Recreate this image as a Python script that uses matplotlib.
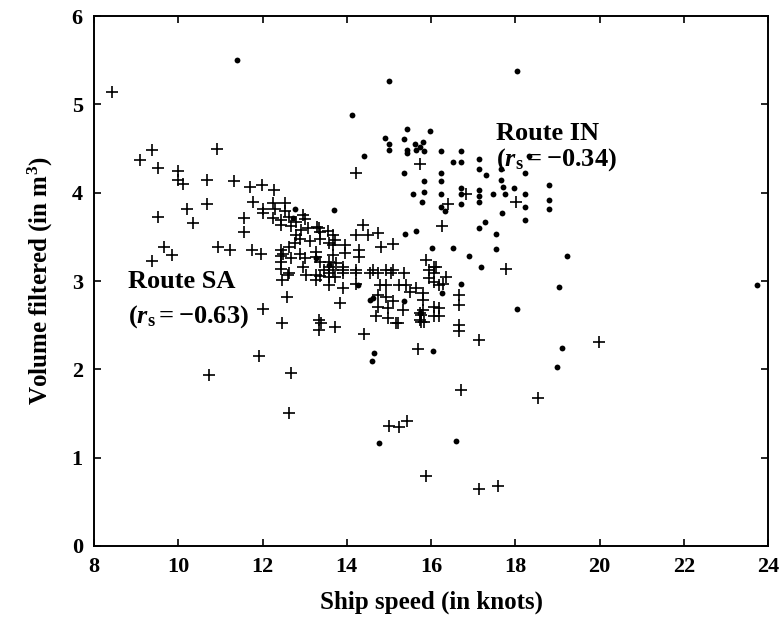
import matplotlib
matplotlib.use("Agg")
import matplotlib.pyplot as plt

# Route IN (dots)
in_speed = [11.40, 15.01, 18.03, 14.13, 15.42, 15.97, 14.90, 15.01, 15.01, 15.35,
            15.42, 15.42, 15.61, 15.65, 15.80, 15.83, 15.73, 14.42, 16.24, 16.71,
            16.51, 16.71, 17.15, 18.33, 15.35, 15.83, 15.83, 15.57, 15.79, 16.24,
            16.24, 16.24, 16.24, 16.32, 16.71, 16.71, 16.71, 17.15, 17.31, 17.15,
            17.15, 17.15, 17.46, 17.66, 17.66, 17.70, 17.76, 17.98, 18.24, 18.24,
            18.24, 18.79, 18.79, 18.79, 17.68, 17.15, 17.27, 17.54, 18.24, 13.69,
            12.76, 15.39, 15.65, 16.02, 16.51, 16.89, 17.54, 17.19, 19.22, 16.71,
            16.26, 19.03, 18.03, 16.04, 19.10, 19.00, 16.59, 23.74, 14.64, 14.60,
            14.76, 12.72, 13.28, 13.59, 14.26, 14.62, 15.37, 14.54, 15.73]
in_volume = [5.50, 5.26, 5.38, 4.88, 4.72, 4.70, 4.62, 4.55, 4.48, 4.61,
             4.48, 4.45, 4.55, 4.48, 4.57, 4.47, 4.52, 4.42, 4.47, 4.47,
             4.35, 4.35, 4.38, 4.42, 4.22, 4.13, 4.01, 3.99, 3.89, 4.22,
             4.13, 3.98, 3.84, 3.79, 4.05, 3.99, 3.87, 4.27, 4.20, 4.03,
             3.96, 3.89, 3.99, 4.27, 4.14, 4.07, 3.98, 4.05, 4.22, 3.99,
             3.84, 4.09, 3.92, 3.82, 3.77, 3.60, 3.67, 3.53, 3.69, 3.80,
             3.82, 3.53, 3.57, 3.37, 3.37, 3.28, 3.36, 3.16, 3.28, 2.97,
             2.86, 2.93, 2.68, 2.21, 2.24, 2.03, 1.19, 2.95, 2.19, 2.09,
             1.17, 3.71, 3.26, 3.18, 2.96, 2.81, 2.77, 2.79, 2.64]

# Route SA (crosses)
sa_speed = [8.44, 9.09, 9.37, 9.52, 10.91, 10.00, 10.00, 10.12, 10.69, 11.33,
            11.70, 11.99, 12.27, 14.22, 15.73, 9.52, 10.20, 10.34, 10.69, 11.55,
            11.55, 11.78, 12.01, 9.66, 9.86, 9.37, 10.95, 11.24, 11.76, 11.97,
            12.49, 14.38, 14.22, 14.50, 14.74, 14.82, 15.09, 13.34, 13.67, 12.00,
            12.25, 12.53, 12.29, 12.53, 12.25, 12.45, 12.64, 12.80, 12.96, 13.02,
            12.45, 12.68, 12.92, 13.08, 13.29, 13.55, 12.80, 12.88, 12.76, 13.12,
            13.36, 13.36, 12.64, 12.88, 13.28, 13.59, 13.71, 12.45, 12.45, 12.45,
            12.45, 12.68, 13.00, 12.96, 13.36, 13.28, 13.59, 13.59, 13.47, 13.75,
            12.64, 13.04, 13.36, 13.71, 13.67, 13.95, 13.95, 14.30, 14.30, 13.67,
            13.91, 13.91, 13.67, 14.22, 14.62, 14.93, 15.09, 15.37, 15.88, 15.96,
            16.12, 13.59, 13.91, 14.22, 14.54, 14.74, 15.05, 16.08, 13.59, 13.91,
            14.22, 14.78, 14.93, 15.25, 15.41, 14.74, 14.93, 15.09, 15.49, 15.65,
            15.80, 14.74, 14.97, 15.33, 15.73, 15.80, 16.08, 16.08, 14.70, 14.97,
            15.21, 15.73, 15.84, 13.83, 13.40, 13.34, 13.34, 13.73, 14.42, 15.17,
            15.69, 11.92, 10.73, 12.68, 12.62, 15.01, 15.24, 15.43, 15.87, 17.15,
            17.60, 12.00, 12.47, 12.57, 12.47, 12.60, 13.28, 13.28, 13.59, 16.67,
            16.67, 16.67, 16.67, 16.20, 16.20, 15.77, 15.77, 17.15, 19.99, 16.71,
            18.53, 16.40, 16.83, 18.02, 16.26, 16.08, 17.78, 15.96, 16.08, 16.36,
            16.28, 16.20, 15.80]
sa_volume = [5.14, 4.37, 4.48, 4.28, 4.50, 4.25, 4.14, 4.10, 4.14, 4.13,
             4.06, 4.09, 4.03, 4.22, 4.33, 3.72, 3.81, 3.66, 3.87, 3.71,
             3.55, 3.90, 3.81, 3.39, 3.30, 3.23, 3.38, 3.35, 3.35, 3.31,
             3.31, 3.64, 3.52, 3.52, 3.54, 3.38, 3.42, 3.60, 3.52, 3.77,
             3.88, 3.88, 3.81, 3.79, 3.71, 3.69, 3.73, 3.67, 3.75, 3.70,
             3.64, 3.62, 3.58, 3.60, 3.61, 3.57, 3.52, 3.48, 3.43, 3.45,
             3.48, 3.56, 3.38, 3.31, 3.33, 3.43, 3.47, 3.35, 3.28, 3.22,
             3.14, 3.26, 3.26, 3.16, 3.22, 3.27, 3.22, 3.16, 3.13, 3.20,
             3.09, 3.07, 3.06, 3.05, 3.41, 3.41, 3.32, 3.35, 3.27, 3.30,
             3.16, 3.13, 3.13, 3.13, 3.13, 3.13, 3.13, 3.09, 3.24, 3.13,
             3.16, 3.09, 3.09, 3.09, 3.09, 3.09, 3.09, 3.09, 2.96, 2.92,
             2.97, 2.96, 2.96, 2.96, 2.96, 2.84, 2.82, 2.77, 2.88, 2.92,
             2.86, 2.71, 2.69, 2.67, 2.64, 2.67, 2.71, 2.60, 2.60, 2.58,
             2.52, 2.56, 2.54, 2.75, 2.52, 2.56, 2.45, 2.48, 2.40, 2.53,
             2.23, 2.15, 1.94, 1.96, 1.50, 1.36, 1.35, 1.41, 0.79, 0.65,
             0.68, 2.68, 2.53, 2.82, 3.01, 3.07, 3.07, 3.01, 3.05, 2.84,
             2.73, 2.50, 2.43, 2.69, 2.60, 2.62, 2.54, 2.33, 2.31, 1.77,
             1.68, 3.87, 3.98, 3.89, 3.62, 3.16, 3.14, 3.03, 2.99, 3.05,
             2.97, 2.96, 2.79]

plt.rcParams['font.family'] = 'Liberation Serif'
plt.rcParams['font.weight'] = 'bold'
plt.rcParams['mathtext.fontset'] = 'custom'
plt.rcParams['mathtext.rm'] = 'Liberation Serif:bold'
plt.rcParams['mathtext.it'] = 'Liberation Serif:italic'
plt.rcParams['mathtext.bf'] = 'Liberation Serif:bold'

fig = plt.figure(figsize=(7.83, 6.19), dpi=100)
ax = fig.add_axes([0.120, 0.118, 0.861, 0.856])

ax.plot(sa_speed, sa_volume, '+', color='black', markersize=9, markeredgewidth=1.2)
ax.plot(in_speed, in_volume, 'o', color='black', markersize=4.2, markeredgewidth=0)

ax.set_xlim(8, 24)
ax.set_ylim(0, 6)
ax.set_xticks(range(8, 25, 2))
ax.set_yticks(range(0, 7))
ax.tick_params(direction='in', top=True, right=True, length=5, width=1.2,
               labelsize=16, pad=8)
for s in ax.spines.values():
    s.set_linewidth(1.4)

ax.set_xlabel('Ship speed (in knots)', fontsize=18, fontweight='bold', labelpad=10)
ax.set_ylabel('Volume filtered (in m$^3$)', fontsize=18, fontweight='bold', labelpad=12)

ax.text(17.55, 4.67, 'Route IN', fontsize=19, fontweight='bold', va='center')
ax.text(17.55, 4.38, r'$(r_{\rm s}=-0.34)$', fontsize=19, va='center')
ax.text(8.8, 3.0, 'Route SA', fontsize=19, fontweight='bold', va='center')
ax.text(8.8, 2.6, r'$(r_{\rm s}=-0.63)$', fontsize=19, va='center')

fig.savefig('out.png', dpi=100)
